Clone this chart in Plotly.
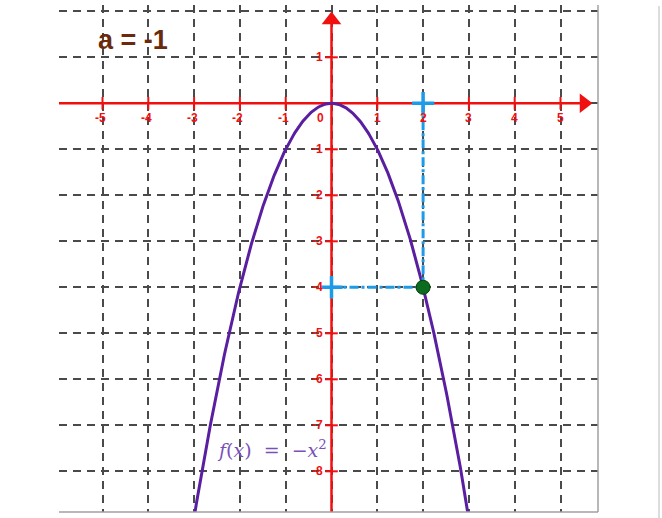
import numpy as np
import plotly.graph_objects as go

# ---- data ----
a_value = -1
x_tick_values = [-5, -4, -3, -2, -1, 1, 2, 3, 4, 5]
x_tick_labels = ["-5", "-4", "-3", "-2", "-1", "1", "2", "3", "4", "5"]
y_tick_values = [1, -1, -2, -3, -4, -5, -6, -7, -8]
y_tick_labels = ["1", "-1", "-2", "-3", "-4", "-5", "-6", "-7", "-8"]
point_x = [2]
point_y = [-4]
curve_x = np.linspace(-3.3, 3.3, 400)
curve_y = a_value * curve_x ** 2

W, H = 662, 518
# plot area in pixels
L, R, T, B = 59, 598, 5, 512
ox, oy, unit_x, unit_y = 331.5, 103.3, 45.8, 46.0
xr = [(L - ox) / unit_x, (R - ox) / unit_x]
yr = [(oy - B) / unit_y, (oy - T) / unit_y]

RED = "#f01010"
BLUE = "#1e9be8"
PURPLE = "#5a1ea0"

fig = go.Figure()

# axes lines (red)
fig.add_trace(go.Scatter(x=[xr[0], 5.45], y=[0, 0], mode="lines",
                         line=dict(color=RED, width=2.5), hoverinfo="skip"))
fig.add_trace(go.Scatter(x=[0, 0], y=[yr[0], 1.75], mode="lines",
                         line=dict(color=RED, width=2.5), hoverinfo="skip"))
# arrow heads
fig.add_trace(go.Scatter(x=[(584 - ox) / unit_x], y=[0], mode="markers",
                         marker=dict(symbol="triangle-right", size=17, color=RED), hoverinfo="skip"))
fig.add_trace(go.Scatter(x=[0], y=[(oy - 20) / unit_y], mode="markers",
                         marker=dict(symbol="triangle-up", size=17, color=RED), hoverinfo="skip"))

# red tick marks
fig.add_trace(go.Scatter(x=x_tick_values, y=[0] * len(x_tick_values), mode="markers",
                         marker=dict(symbol="line-ns", size=9, line=dict(color=RED, width=2)),
                         hoverinfo="skip"))
fig.add_trace(go.Scatter(x=[0] * len(y_tick_values), y=y_tick_values, mode="markers",
                         marker=dict(symbol="line-ew", size=9, line=dict(color=RED, width=2)),
                         hoverinfo="skip"))

# parabola
fig.add_trace(go.Scatter(x=curve_x, y=curve_y, mode="lines",
                         line=dict(color=PURPLE, width=3), hoverinfo="skip"))

# blue guide lines
fig.add_trace(go.Scatter(x=[point_x[0], point_x[0]], y=[0, point_y[0]], mode="lines",
                         line=dict(color=BLUE, width=3, dash="dashdot"), hoverinfo="skip"))
fig.add_trace(go.Scatter(x=[0, point_x[0]], y=[point_y[0], point_y[0]], mode="lines",
                         line=dict(color=BLUE, width=3, dash="dashdot"), hoverinfo="skip"))
fig.add_trace(go.Scatter(x=[point_x[0], 0], y=[0, point_y[0]], mode="markers",
                         marker=dict(symbol="cross-thin", size=16, line=dict(color=BLUE, width=3.5)),
                         hoverinfo="skip"))

# green point
fig.add_trace(go.Scatter(x=point_x, y=point_y, mode="markers",
                         marker=dict(color="#0b6b1e", size=14, line=dict(color="#06400f", width=1)),
                         hoverinfo="skip"))

annotations = []
tick_font = dict(family="Liberation Sans, Arial", size=12, color=RED)
for v, t in zip(x_tick_values, x_tick_labels):
    annotations.append(dict(x=v, y=0, xref="x", yref="y", text="<b>%s</b>" % t, showarrow=False,
                            yshift=-15, xshift=-2 if t.startswith("-") else 0, font=tick_font))
annotations.append(dict(x=0, y=0, xref="x", yref="y", text="<b>0</b>", showarrow=False,
                        yshift=-15, xshift=-11, font=tick_font))
for v, t in zip(y_tick_values, y_tick_labels):
    annotations.append(dict(x=0, y=v, xref="x", yref="y", text="<b>%s</b>" % t, showarrow=False,
                            xanchor="right", xshift=-7, font=tick_font))

# labels
annotations.append(dict(x=(96 - ox) / unit_x, y=(oy - 40) / unit_y, xref="x", yref="y",
                        text="<b>a = -1</b>", showarrow=False, xanchor="left",
                        font=dict(family="Liberation Sans, Arial", size=27, color="#6b2a0c")))
annotations.append(dict(x=(272 - ox) / unit_x, y=(oy - 449) / unit_y, xref="x", yref="y",
                        text="<i>f</i>(<i>x</i>)  =  −<i>x</i><sup>2</sup>", showarrow=False,
                        font=dict(family="DejaVu Serif, Liberation Serif", size=19, color="#7b4fb8")))

shapes = [
    dict(type="line", xref="x domain", yref="y domain", x0=1, x1=1, y0=0, y1=1,
         line=dict(color="#a0a0a0", width=1.5)),
    dict(type="line", xref="x domain", yref="y domain", x0=0, x1=1, y0=0, y1=0,
         line=dict(color="#a0a0a0", width=1.5)),
    dict(type="line", xref="paper", yref="paper", x0=659 / W, x1=659 / W, y0=0, y1=1 - 6 / H,
         line=dict(color="#dcdcdc", width=2)),
]

fig.update_layout(
    width=W, height=H, margin=dict(l=0, r=0, t=0, b=0),
    paper_bgcolor="white", plot_bgcolor="white", showlegend=False,
    xaxis=dict(domain=[L / W, R / W], range=xr, dtick=1, tick0=0, showgrid=True,
               gridcolor="#4a4a4a", gridwidth=2, griddash="8px,6px", zeroline=False,
               showticklabels=False, ticks="", showline=False, fixedrange=True),
    yaxis=dict(domain=[1 - B / H, 1 - T / H], range=yr, dtick=1, tick0=0, showgrid=True,
               gridcolor="#4a4a4a", gridwidth=2, griddash="8px,6px", zeroline=False,
               showticklabels=False, ticks="", showline=False, fixedrange=True),
    annotations=annotations, shapes=shapes,
)

fig.write_html("out.html", config={"displayModeBar": False},
               post_script="document.body.style.margin='0px';")
